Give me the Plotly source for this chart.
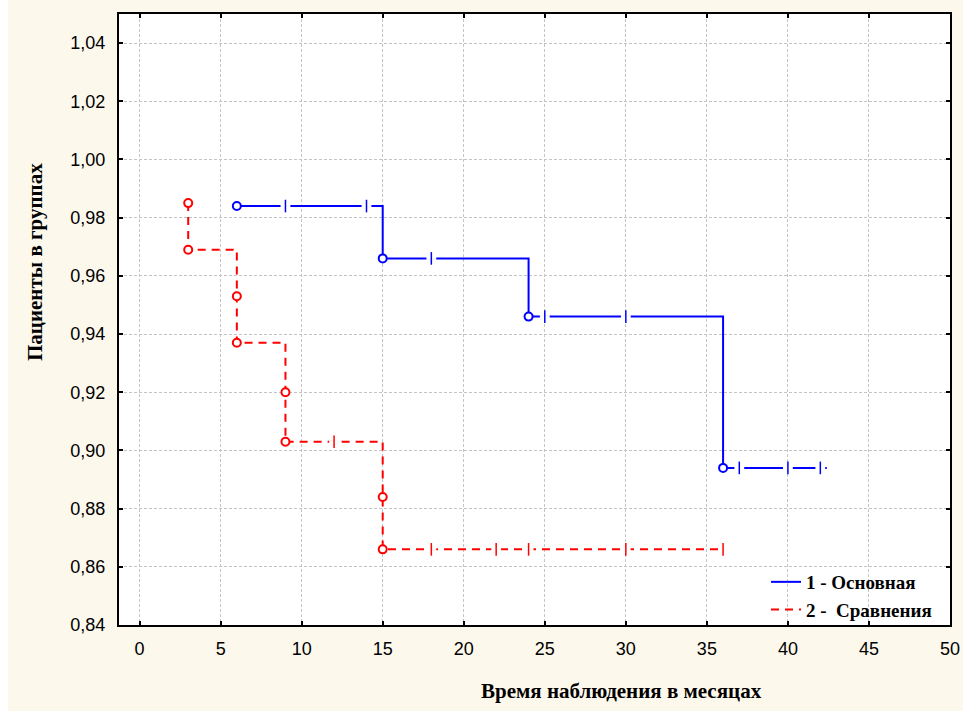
import plotly.graph_objects as go

# Kaplan-Meier style survival steps for the two patient groups
main_name = "1 - Основная"
main_step_x = [6, 15, 24, 36, 42.4]
main_step_y = [0.984, 0.966, 0.946, 0.894, 0.894]
main_event_x = [6, 15, 24, 36]
main_event_y = [0.984, 0.966, 0.946, 0.894]
main_cens_x = [9, 14, 18, 25, 30, 37, 40, 42]
main_cens_y = [0.984, 0.984, 0.966, 0.946, 0.946, 0.894, 0.894, 0.894]

comp_name = "2 -  Сравнения"
comp_step_x = [3, 3, 6, 6, 9, 9, 15, 15, 36.3]
comp_step_y = [0.985, 0.969, 0.953, 0.937, 0.920, 0.903, 0.884, 0.866, 0.866]
comp_event_x = [3, 3, 6, 6, 9, 9, 15, 15]
comp_event_y = [0.985, 0.969, 0.953, 0.937, 0.920, 0.903, 0.884, 0.866]
comp_cens_x = [12, 18, 22, 24, 30, 36]
comp_cens_y = [0.903, 0.866, 0.866, 0.866, 0.866, 0.866]

x_ticks = list(range(0, 51, 5))
y_ticks = [0.84, 0.86, 0.88, 0.90, 0.92, 0.94, 0.96, 0.98, 1.00, 1.02, 1.04]

x_title = "Время наблюдения в месяцах"
y_title = "Пациенты в группах"

BLUE = "#0000ff"
RED = "#ff0000"
CREAM = "#fdf8ec"

fig = go.Figure()


def add_group(name, sx, sy, ex, ey, cx, cy, color, dash):
    fig.add_trace(go.Scatter(
        x=sx, y=sy, mode="lines", name=name, line_shape="hv",
        line=dict(color=color, width=2, dash=dash), showlegend=True,
    ))
    # censored observations: short vertical ticks on the curve
    fig.add_trace(go.Scatter(
        x=cx, y=cy, mode="markers", showlegend=False, hoverinfo="skip",
        marker=dict(symbol="line-ew", size=7, line=dict(color="white", width=3)),
    ))
    fig.add_trace(go.Scatter(
        x=cx, y=cy, mode="markers", showlegend=False,
        marker=dict(symbol="line-ns", size=9, line=dict(color=color, width=1.5)),
    ))
    # events: open circles
    fig.add_trace(go.Scatter(
        x=ex, y=ey, mode="markers", showlegend=False,
        marker=dict(symbol="circle", size=8, color="white",
                    line=dict(color=color, width=2)),
    ))


add_group(main_name, main_step_x, main_step_y, main_event_x, main_event_y,
          main_cens_x, main_cens_y, BLUE, "solid")
add_group(comp_name, comp_step_x, comp_step_y, comp_event_x, comp_event_y,
          comp_cens_x, comp_cens_y, RED, "8px,6px")

W, H = 963, 711
L, R, T, B = 119, 13, 14, 86
pw, ph = W - L - R, H - T - B


def px_x(p):
    return (p - L) / pw


def px_y(p):
    return (H - B - p) / ph


axis_common = dict(
    showline=True, linecolor="black", linewidth=2, mirror="ticks",
    ticks="inside", ticklen=4, tickwidth=2, tickcolor="black",
    showgrid=True, gridcolor="#c4c4c4", gridwidth=1, griddash="3px,2px",
    zeroline=False, automargin=False,
    tickfont=dict(family="Liberation Sans, Arial", size=18, color="black"),
)

fig.update_xaxes(range=[-1.27, 50], tickvals=x_ticks, ticklabelstandoff=6, **axis_common)
fig.update_yaxes(range=[0.84, 1.05], tickvals=y_ticks, tickformat=".2f",
                 ticklabelstandoff=8, **axis_common)

fig.add_annotation(
    text=x_title, xref="paper", yref="paper", x=px_x(621), y=px_y(691),
    xanchor="center", yanchor="middle", showarrow=False,
    font=dict(family="Liberation Serif, Times New Roman", size=21, color="black", weight="bold"),
)
fig.add_annotation(
    text=y_title, xref="paper", yref="paper", x=px_x(35), y=px_y(262),
    xanchor="center", yanchor="middle", showarrow=False, textangle=-90,
    font=dict(family="Liberation Serif, Times New Roman", size=21, color="black", weight="bold"),
)

# thin white strip along the left edge of the canvas
fig.add_shape(type="rect", xref="paper", yref="paper", layer="below",
              x0=px_x(0), x1=px_x(8), y0=px_y(H), y1=px_y(0),
              fillcolor="white", line_width=0)

fig.update_layout(
    width=W, height=H,
    margin=dict(l=L, r=R, t=T, b=B, autoexpand=False),
    paper_bgcolor=CREAM, plot_bgcolor="white",
    separators=", ",
    legend=dict(
        x=px_x(766), y=px_y(563), xanchor="left", yanchor="top",
        bgcolor="rgba(255,255,255,0)", borderwidth=0,
        font=dict(family="Liberation Serif, Times New Roman", size=19, color="black", weight="bold"),
        tracegroupgap=0, itemwidth=30,
    ),
)

fig.write_html("out.html")
